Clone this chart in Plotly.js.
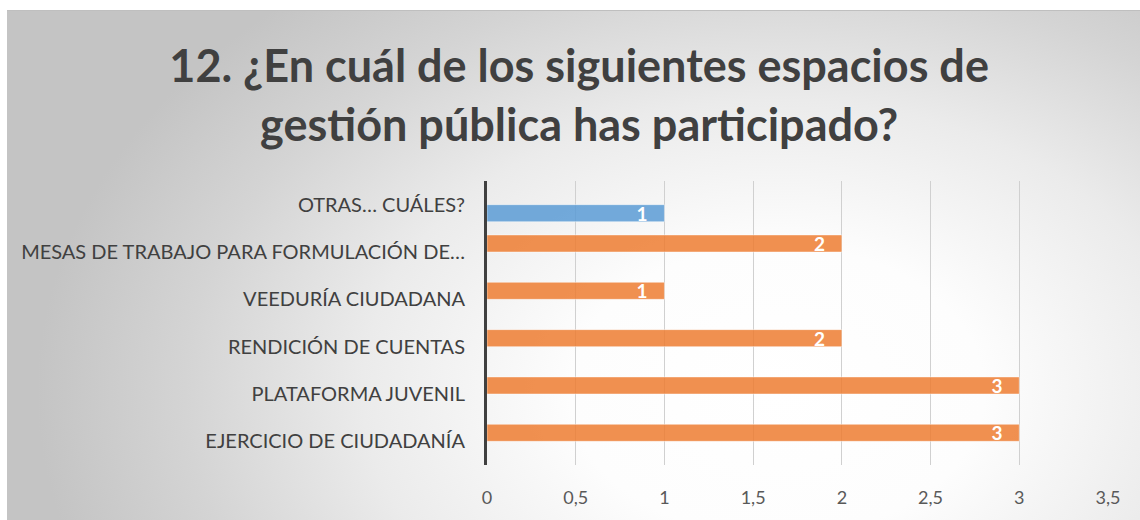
<!DOCTYPE html>
<html>
<head>
<meta charset="utf-8">
<script src="https://cdn.plot.ly/plotly-3.0.1.min.js"></script>
<style>
  html, body { margin: 0; padding: 0; background: #ffffff; }
  #wrap { position: relative; width: 1140px; height: 520px; overflow: hidden; }
  #bg {
    position: absolute; left: 7px; top: 10px; width: 1133px; height: 510px;
    border-top: 1px solid #bfbfbf;
    background: radial-gradient(ellipse 740px 520px at 770px 380px, #ffffff 0%, #fdfdfd 28%, #ebebeb 56%, #d4d4d4 80%, #c4c4c4 100%);
  }
  #chart { position: absolute; left: 0; top: 0; width: 1140px; height: 520px; }
</style>
</head>
<body>
<div id="wrap">
  <div id="bg"></div>
  <div id="chart"></div>
</div>
<script>
// Categories (bottom to top)
const categories = [
  "EJERCICIO DE CIUDADANÍA",
  "PLATAFORMA JUVENIL",
  "RENDICIÓN DE CUENTAS",
  "VEEDURÍA CIUDADANA",
  "MESAS DE TRABAJO PARA FORMULACIÓN DE…",
  "OTRAS… CUÁLES?"
];
// Main series (orange)
const mainValues = [3, 3, 2, 1, 2, null];
// "Otras" series (blue)
const otherValues = [null, null, null, null, null, 1];
const xTickVals = [0, 0.5, 1, 1.5, 2, 2.5, 3, 3.5];

const FONT = "Lato, 'Open Sans', sans-serif";
const labelFont = { family: FONT, size: 19, color: "#ffffff", weight: 700 };

function barTrace(name, values, color) {
  return {
    type: "bar", orientation: "h", name: name,
    y: categories, x: values,
    marker: { color: color, line: { color: "rgba(255,255,255,0.45)", width: 1 } },
    text: values.map(v => v == null ? "" : String(v) + "\u00a0\u00a0\u00a0"),
    textposition: "inside", insidetextanchor: "end",
    textangle: 0, constraintext: "none",
    textfont: labelFont, cliponaxis: false, hoverinfo: "x+y"
  };
}

const traces = [
  barTrace("Otras", otherValues, "rgba(91,155,213,0.85)"),
  barTrace("Espacios", mainValues, "rgba(237,125,49,0.85)")
];

const layout = {
  width: 1140, height: 520,
  paper_bgcolor: "rgba(0,0,0,0)",
  plot_bgcolor: "rgba(0,0,0,0)",
  separators: ",.",
  showlegend: false,
  barmode: "group",
  bargap: 0.28, bargroupgap: 0,
  margin: { l: 487, r: 32, t: 181, b: 55, pad: 0 },
  title: {
    text: "12. ¿En cuál de los siguientes espacios de<br>gestión pública has participado?",
    font: { family: FONT, size: 45, color: "#404040", weight: 700 },
    x: 0.508, xanchor: "center", xref: "container",
    y: 0.842, yanchor: "middle", yref: "container"
  },
  xaxis: {
    range: [0, 3.5], tickvals: xTickVals, showgrid: true,
    gridcolor: "#d0d0d0", gridwidth: 1, zeroline: false, showline: false,
    ticks: "", ticklabelstandoff: 20,
    tickfont: { family: FONT, size: 18, color: "#595959" }
  },
  yaxis: {
    type: "category", categoryorder: "array", categoryarray: categories,
    showgrid: false, zeroline: false,
    showline: true, linecolor: "#404040", linewidth: 3,
    ticks: "", ticklabelstandoff: 15,
    tickfont: { family: FONT, size: 20, color: "#404040" }
  }
};

Plotly.newPlot("chart", traces, layout, { displayModeBar: false, staticPlot: true });
</script>
</body>
</html>
